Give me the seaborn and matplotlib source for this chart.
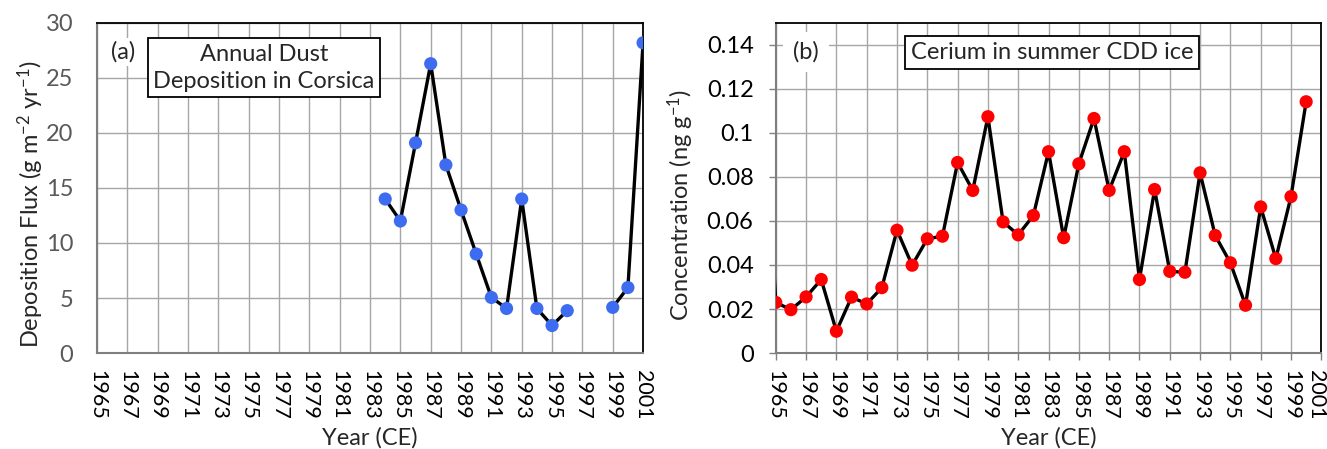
import numpy as np
import pandas as pd
import matplotlib
matplotlib.use("Agg")
import matplotlib.pyplot as plt
import matplotlib.transforms as mtransforms
import seaborn as sns

# data
dust_years = [1984, 1985, 1986, 1987, 1988, 1989, 1990, 1991, 1992, 1993, 1994, 1995, 1996, 1999, 2000, 2001]
dust_flux = [14.0, 12.0, 19.1, 26.3, 17.1, 13.0, 9.0, 5.05, 4.05, 14.0, 4.05, 2.5, 3.85, 4.15, 5.95, 28.2]

ce_years = list(range(1964, 2001))
ce_conc = [0.14, 0.0230, 0.0197, 0.0255, 0.0334, 0.0099, 0.0254, 0.0223, 0.0297, 0.0558,
           0.0399, 0.0519, 0.0531, 0.0866, 0.0739, 0.1074, 0.0596, 0.0537, 0.0625, 0.0915,
           0.0524, 0.0860, 0.1066, 0.0739, 0.0915, 0.0334, 0.0743, 0.0371, 0.0367, 0.0819,
           0.0534, 0.0410, 0.0217, 0.0664, 0.0429, 0.0711, 0.1142]

year_ticks = list(range(1965, 2002, 2))
dust_yticks = [0, 5, 10, 15, 20, 25, 30]
ce_yticks = [0, 0.02, 0.04, 0.06, 0.08, 0.1, 0.12, 0.14]
ce_yticklabels = ["0", "0.02", "0.04", "0.06", "0.08", "0.1", "0.12", "0.14"]

df_a = pd.DataFrame({"year": dust_years, "flux": dust_flux})
df_a["seg"] = np.cumsum(np.diff(df_a["year"], prepend=df_a["year"][0]) > 1)
df_b = pd.DataFrame({"year": ce_years, "conc": ce_conc})

sns.set_theme(style="whitegrid")
plt.rcParams["font.family"] = ["Lato", "DejaVu Sans"]
plt.rcParams["mathtext.default"] = "regular"

fig = plt.figure(figsize=(13.27, 4.49), dpi=100)
ax1 = fig.add_axes([0.0731, 0.2138, 0.4115, 0.735])
ax2 = fig.add_axes([0.5846, 0.2138, 0.4111, 0.735])

grid_c = "#a6a6a6"
tick_fs = 15.5
lab_fs = 17
box_fs = 17

# Panel (a)
sns.lineplot(data=df_a, x="year", y="flux", units="seg", estimator=None,
             color="black", lw=2.4, ax=ax1, zorder=3)
sns.scatterplot(data=df_a, x="year", y="flux", color="#3d6cf0", s=90,
                edgecolor="none", ax=ax1, zorder=4)
ax1.set_xlim(1965, 2001)
ax1.set_ylim(0, 30)
ax1.set_xticks(year_ticks)
ax1.set_xticklabels([str(y) for y in year_ticks])
ax1.set_yticks(dust_yticks)
ax1.tick_params(axis="x", labelrotation=270, length=0, pad=12, labelsize=tick_fs, labelcolor="black")
ax1.tick_params(axis="y", length=0, pad=17, labelsize=17, labelcolor="#595959")
ax1.set_xlabel("Year (CE)", fontsize=lab_fs, va="center")
ax1.xaxis.set_label_coords(0.5, -0.258)
ax1.set_ylabel("Deposition Flux (g m$^{-2}$ yr$^{-1}$)", fontsize=lab_fs, va="center")
ax1.yaxis.set_label_coords(-0.121, 0.45)
ax1.text(0.048, 0.912, "(a)", transform=ax1.transAxes, fontsize=box_fs, ha="center", va="center",
         bbox=dict(facecolor="white", edgecolor="none", pad=2), zorder=5)
ax1.text(0.306, 0.865, "Annual Dust\nDeposition in Corsica", transform=ax1.transAxes,
         fontsize=box_fs, ha="center", va="center", linespacing=1.35,
         bbox=dict(boxstyle="square,pad=0.22", facecolor="white", edgecolor="black", lw=1.3), zorder=5)

# Panel (b)
sns.lineplot(data=df_b, x="year", y="conc", estimator=None, color="black", lw=2.4, ax=ax2, zorder=3)
sns.scatterplot(data=df_b, x="year", y="conc", color="#ff0000", s=90,
                edgecolor="none", ax=ax2, zorder=4)
ax2.set_xlim(1965, 2001)
ax2.set_ylim(0, 0.15)
ax2.set_xticks(year_ticks)
ax2.set_xticklabels([str(y) for y in year_ticks])
ax2.set_yticks(ce_yticks)
ax2.set_yticklabels(ce_yticklabels)
ax2.tick_params(axis="x", labelrotation=270, direction="out", length=5, width=1, color="#808080",
                bottom=True, pad=7, labelsize=tick_fs, labelcolor="black")
ax2.tick_params(axis="y", direction="out", length=5, width=1, color="#808080",
                left=True, pad=11, labelsize=17, labelcolor="black")
ax2.set_xlabel("Year (CE)", fontsize=lab_fs, va="center")
ax2.xaxis.set_label_coords(0.5, -0.258)
ax2.set_ylabel("Concentration (ng g$^{-1}$)", fontsize=lab_fs, va="center")
ax2.yaxis.set_label_coords(-0.175, 0.45)
ax2.text(0.0555, 0.912, "(b)", transform=ax2.transAxes, fontsize=box_fs, ha="center", va="center",
         bbox=dict(facecolor="white", edgecolor="none", pad=7), zorder=5)
ax2.text(0.5065, 0.91, "Cerium in summer CDD ice", transform=ax2.transAxes,
         fontsize=box_fs, ha="center", va="center",
         bbox=dict(boxstyle="square,pad=0.25", facecolor="white", edgecolor="black", lw=1.3), zorder=5)

# keep the last year label inside the picture
last = ax2.get_xticklabels()[-1]
last.set_transform(last.get_transform() + mtransforms.ScaledTranslation(-0.05, 0, fig.dpi_scale_trans))

for ax in (ax1, ax2):
    ax.grid(True, color=grid_c, lw=1)
    ax.set_axisbelow(True)
    for side in ("left", "bottom"):
        ax.spines[side].set_color("#7f7f7f")
        ax.spines[side].set_linewidth(1.5)
    for side in ("top", "right"):
        ax.spines[side].set_color("black")
        ax.spines[side].set_linewidth(1.3)
    ax.spines["top"].set_visible(True)
    ax.spines["right"].set_visible(True)

fig.savefig("out.png", dpi=100)
